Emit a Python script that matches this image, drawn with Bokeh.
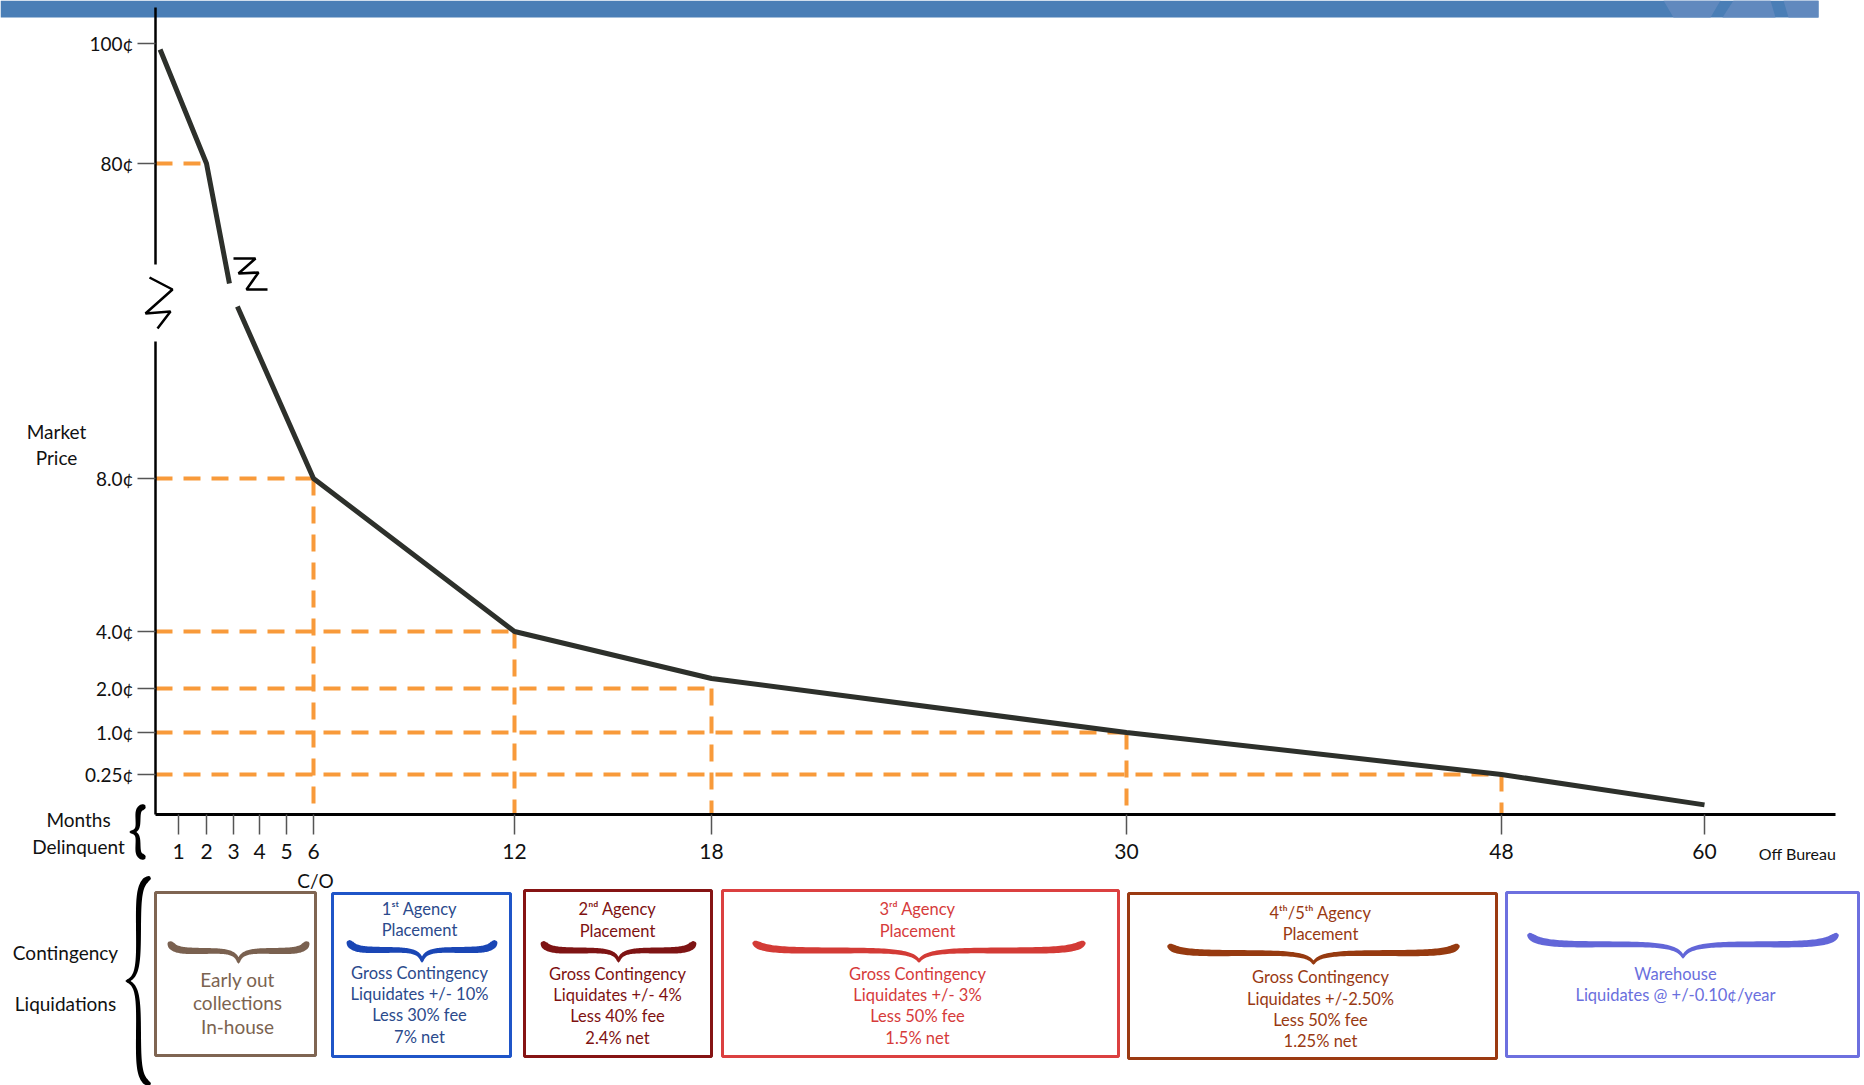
import numpy as np
from bokeh.plotting import figure
from bokeh.models import Range1d, LinearAxis, FixedTicker
from bokeh.core.properties import value
from bokeh.embed import file_html
from bokeh.resources import INLINE

# ---------------- data ----------------
month_ticks = [1, 2, 3, 4, 5, 6, 12, 18, 30, 48, 60]
month_tick_labels = ["1", "2", "3", "4", "5", "6", "12", "18", "30", "48", "60"]
price_ticks = [100, 80, 8.0, 4.0, 2.0, 1.0, 0.25]
price_tick_labels = ["100¢", "80¢", "8.0¢", "4.0¢", "2.0¢", "1.0¢", "0.25¢"]

# market price curve (cents), split by the axis break
upper_months = [0.2, 2.0, 2.85]
upper_price = [99.0, 80.0, 60.0]
lower_months = [3.15, 6.0, 12.0, 18.0, 30.0, 48.0, 60.0]
lower_price = [12.5, 8.0, 4.0, 2.35, 1.0, 0.25, 0.06]

# reference (guide) points
guide_months = [2, 6, 12, 18, 30, 48]
guide_price = [80.0, 8.0, 4.0, 2.0, 1.0, 0.25]

stage_headers = [
    [],
    ["1ˢᵗ Agency", "Placement"],
    ["2ⁿᵈ Agency", "Placement"],
    ["3ʳᵈ Agency", "Placement"],
    ["4ᵗʰ/5ᵗʰ Agency", "Placement"],
    [],
]
stage_bodies = [
    ["Early out", "collections", "In-house"],
    ["Gross Contingency", "Liquidates +/- 10%", "Less 30% fee", "7% net"],
    ["Gross Contingency", "Liquidates +/- 4%", "Less 40% fee", "2.4% net"],
    ["Gross Contingency", "Liquidates +/- 3%", "Less 50% fee", "1.5% net"],
    ["Gross Contingency", "Liquidates +/-2.50%", "Less 50% fee", "1.25% net"],
    ["Warehouse", "Liquidates @ +/-0.10¢/year"],
]

# ---------------- layout (broken, hand-drawn axis scale) ----------------
X_MONTH_ANCHORS = [0, 1, 2, 3, 4, 5, 6, 12, 18, 30, 48, 60]
X_PIX_ANCHORS = [155, 178, 206, 233, 259, 286, 313, 514, 711, 1126, 1501, 1704]
Y_PRICE_ANCHORS = [0, 0.25, 1, 2, 4, 8, 12.5, 60, 80, 100]
Y_PIX_ANCHORS = [814, 774, 732, 688, 631, 478, 306, 283, 163, 43]
X_AXIS_END = 1835


def sx(m):
    return np.interp(m, X_MONTH_ANCHORS, X_PIX_ANCHORS)


def sy(v):
    return np.interp(v, Y_PRICE_ANCHORS, Y_PIX_ANCHORS)


FONT = value("Lato")
LINE_COLOR = "#2d302b"
ORANGE = "#f89a3a"

# stage boxes: left, right, top, bottom, colours
BOX_L = [155, 332, 524, 722, 1128, 1506]
BOX_R = [315, 510, 711, 1118, 1496, 1858]
BOX_T = [892, 893, 890, 890, 893, 892]
BOX_B = [1055, 1056, 1056, 1056, 1058, 1056]
BOX_COL = ["#7f6552", "#1f55c8", "#861414", "#db4040", "#9b3a12", "#6d70df"]
TXT_COL = ["#7b6350", "#2b4a8c", "#7e1111", "#d63b3b", "#993912", "#6a6fdd"]
BRACE_COL = ["#7a6150", "#1a46b5", "#7e1414", "#d33b36", "#963a10", "#6266d8"]
TXT_X = [237, 419, 617, 917, 1320, 1675]
HEAD_Y = [[], [908, 929], [908, 930], [908, 930], [912, 933], []]
BODY_Y = [[979, 1002, 1026], [972, 993, 1014, 1036], [973, 994, 1015, 1037],
          [973, 994, 1015, 1037], [976, 998, 1019, 1040], [973, 994]]
BODY_SIZE = ["19px", "16.5px", "16.5px", "16.5px", "16.5px", "16.5px"]
BRACE_X0 = [169, 348, 542, 753, 1168, 1528]
BRACE_X1 = [307, 495, 694, 1084, 1458, 1837]
BRACE_YT = [941, 940, 941, 941, 944, 933]
BRACE_YB = [962, 961, 961, 961, 963, 957]


def brace_polygon(u0, u1, v_end, v_tip, width, orient="h", frac=0.4, n=40):
    uc = (u0 + u1) / 2.0
    half = uc - u0
    vm = v_end + frac * (v_tip - v_end)

    def cubic(P0, P1, P2, P3):
        t = np.linspace(0, 1, n)[:, None]
        return ((1 - t) ** 3) * P0 + 3 * ((1 - t) ** 2) * t * P1 + 3 * (1 - t) * t ** 2 * P2 + t ** 3 * P3

    P = lambda u, v: np.array([u, v], float)
    a = cubic(P(u0, v_end), P(u0 + 0.04 * half, vm), P(u0 + 0.2 * half, vm), P(u0 + 0.5 * half, vm))
    b = cubic(P(u0 + 0.5 * half, vm), P(uc - 0.2 * half, vm), P(uc - 0.03 * half, vm), P(uc, v_tip))
    left = np.vstack([a, b[1:]])
    right = left[::-1].copy()
    right[:, 0] = 2 * uc - right[:, 0]
    c = np.vstack([left, right[1:]])
    m = len(left)
    s = np.concatenate([np.linspace(0, 1, m), np.linspace(1, 0, m)[1:]])
    th = 1.6 + (width - 1.6) * (1 - s) ** 0.6 * np.clip(s * 12, 0, 1) ** 0.5 + 0.8
    d = np.gradient(c, axis=0)
    d /= np.hypot(d[:, 0], d[:, 1])[:, None]
    nrm = np.column_stack([-d[:, 1], d[:, 0]])
    poly = np.vstack([c + nrm * th[:, None] / 2, (c - nrm * th[:, None] / 2)[::-1]])
    if orient == "v":
        poly = poly[:, ::-1]
    return list(poly[:, 0]), list(poly[:, 1])


p = figure(width=1864, height=1085, x_range=Range1d(0, 1864), y_range=Range1d(1085, 0),
           x_axis_type=None, y_axis_type=None, toolbar_location=None, output_backend="svg",
           min_border=0, outline_line_color=None, background_fill_color="white",
           border_fill_color="white")
p.xgrid.visible = False
p.ygrid.visible = False

# top banner
p.quad(left=[0], right=[1818], top=[0], bottom=[17], fill_color="#4a7eb6", line_color=None)
p.patches(xs=[[1663, 1720, 1710, 1673], [1733, 1770, 1775, 1722], [1783, 1818, 1818, 1788]],
          ys=[[0, 0, 17, 17]] * 3, fill_color="#6189be", line_color=None)

# dashed guides
gx = sx(guide_months)
gy = sy(guide_price)
x0 = float(sx(0))
y0 = float(sy(0))
p.segment(x0=[x0] * len(gx), y0=list(gy), x1=list(gx), y1=list(gy),
          line_color=ORANGE, line_width=4, line_dash="17 11")
p.segment(x0=list(gx[1:]), y0=list(gy[1:]), x1=list(gx[1:]), y1=[y0] * (len(gx) - 1),
          line_color=ORANGE, line_width=4, line_dash="17 11")

# y axis line with break
p.segment(x0=[x0, x0], y0=[7, 341], x1=[x0, x0], y1=[264, y0], line_color="black", line_width=2.5)
# break marks
p.line(x=[149, 172, 145, 170, 157], y=[277, 289, 313, 311, 328], line_color="black", line_width=2.5)
p.line(x=[233, 255, 238, 258, 246, 267], y=[258, 258, 273, 272, 289, 289], line_color="black", line_width=2.5)

# price curve
p.line(x=list(sx(upper_months)), y=list(sy(upper_price)), line_color=LINE_COLOR, line_width=5)
p.line(x=list(sx(lower_months)), y=list(sy(lower_price)), line_color=LINE_COLOR, line_width=5)

# axes
xt = [float(v) for v in sx(month_ticks)]
xaxis = LinearAxis(fixed_location=y0, ticker=FixedTicker(ticks=xt),
                   major_label_overrides=dict(zip(xt, month_tick_labels)), bounds=(x0, X_AXIS_END))
xaxis.axis_line_width = 3
xaxis.axis_line_color = "black"
xaxis.major_tick_in = 0
xaxis.major_tick_out = 20
xaxis.major_tick_line_color = "#555555"
xaxis.major_tick_line_width = 1.5
xaxis.minor_tick_line_color = None
xaxis.major_label_text_font = "Lato"
xaxis.major_label_text_font_size = "21px"
xaxis.major_label_text_color = "#111111"
xaxis.major_label_standoff = 9
p.add_layout(xaxis, "below")

yt = [float(v) for v in sy(price_ticks)]
yaxis = LinearAxis(fixed_location=x0, ticker=FixedTicker(ticks=yt),
                   major_label_overrides=dict(zip(yt, price_tick_labels)))
yaxis.axis_line_color = None
yaxis.major_tick_in = 0
yaxis.major_tick_out = 18
yaxis.major_tick_line_color = "#555555"
yaxis.major_tick_line_width = 1.5
yaxis.minor_tick_line_color = None
yaxis.major_label_text_font = "Lato"
yaxis.major_label_text_font_size = "19px"
yaxis.major_label_text_color = "#111111"
yaxis.major_label_standoff = 4
p.add_layout(yaxis, "left")

# side labels
p.text(x=[56, 56, 78, 78, 65, 65, 315],
       y=[431, 457, 819, 846, 952, 1003, 880],
       text=["Market", "Price", "Months", "Delinquent", "Contingency", "Liquidations", "C/O"],
       text_font=FONT, text_font_size="19px", text_align="center", text_baseline="middle",
       text_color="#111111")
p.text(x=[1797], y=[853], text=["Off Bureau"], text_font=FONT, text_font_size="16px",
       text_align="center", text_baseline="middle", text_color="#111111")

# vertical braces
bx, by = brace_polygon(806, 857, 145, 130, 5.5, orient="v", frac=0.5)
p.patch(x=bx, y=by, fill_color="black", line_color=None)
bx, by = brace_polygon(877, 1084, 150, 126, 5.5, orient="v", frac=0.5)
p.patch(x=bx, y=by, fill_color="black", line_color=None)

# stage boxes
p.quad(left=BOX_L, right=BOX_R, top=BOX_T, bottom=BOX_B, fill_color=None,
       line_color=BOX_COL, line_width=3)
for i in range(6):
    bx, by = brace_polygon(BRACE_X0[i], BRACE_X1[i], BRACE_YT[i], BRACE_YB[i], 7, frac=0.45)
    p.patch(x=bx, y=by, fill_color=BRACE_COL[i], line_color=None)
    if stage_headers[i]:
        p.text(x=[TXT_X[i]] * len(stage_headers[i]), y=HEAD_Y[i], text=stage_headers[i],
               text_font=FONT, text_font_size="16.5px", text_align="center",
               text_baseline="middle", text_color=TXT_COL[i])
    p.text(x=[TXT_X[i]] * len(stage_bodies[i]), y=BODY_Y[i], text=stage_bodies[i],
           text_font=FONT, text_font_size=BODY_SIZE[i], text_align="center",
           text_baseline="middle", text_color=TXT_COL[i])

open("out.html", "w").write(file_html(p, INLINE))
